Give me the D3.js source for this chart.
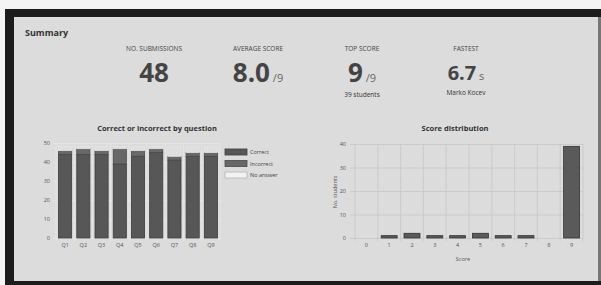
<!DOCTYPE html>
<html>
<head>
<meta charset="utf-8">
<script src="https://cdn.jsdelivr.net/npm/d3@7"></script>
<style>
  body { margin: 0; background: #f4f4f4; }
  svg { display: block; font-family: "Open Sans", sans-serif; }
</style>
</head>
<body>
<script>
// summary stats
var statLabels = ["NO. SUBMISSIONS", "AVERAGE SCORE", "TOP SCORE", "FASTEST"];
var statValues = ["48", "8.0", "9", "6.7"];
var statUnits = ["", "/9", "/9", "s"];
var statNotes = ["", "", "39 students", "Marko Kocev"];

// correct / incorrect by question
var questions = ["Q1", "Q2", "Q3", "Q4", "Q5", "Q6", "Q7", "Q8", "Q9"];
var correct = [44, 44, 44, 39, 43, 45, 41, 43, 43];
var incorrect = [2, 3, 2, 8, 3, 2, 2, 2, 2];
var noAnswer = [2, 1, 2, 1, 2, 1, 5, 3, 3];
var answerKeys = ["Correct", "Incorrect", "No answer"];
var leftTicks = [0, 10, 20, 30, 40, 50];

// score distribution
var scores = ["0", "1", "2", "3", "4", "5", "6", "7", "8", "9"];
var students = [0, 1, 2, 1, 1, 2, 1, 1, 0, 39];
var rightTicks = [0, 10, 20, 30, 40];

var W = 601, H = 285;
var svg = d3.select("body").append("svg")
    .attr("width", W)
    .attr("height", H);

// frame
svg.append("rect").attr("x", 5).attr("y", 9).attr("width", 596).attr("height", 276).attr("fill", "#1c1c1c");
svg.append("rect").attr("x", 14).attr("y", 17).attr("width", 584).attr("height", 264).attr("fill", "#dcdcdc");
svg.append("rect").attr("x", 598).attr("y", 17).attr("width", 3).attr("height", 264).attr("fill", "#777");

svg.append("text")
    .attr("x", 25).attr("y", 36)
    .style("font-size", "9px").style("font-weight", "bold").style("fill", "#333")
    .text("Summary");

// stats row
var sx = d3.scalePoint().domain(statLabels).range([154, 466]);
var stat = svg.selectAll(".stat")
    .data(statLabels)
    .enter().append("g")
    .attr("class", "stat")
    .attr("transform", function(d) { return "translate(" + sx(d) + ",0)"; });

stat.append("text")
    .attr("y", 51)
    .attr("text-anchor", "middle")
    .style("font-size", "6.5px").style("fill", "#444")
    .text(function(d) { return d; });

var valText = stat.append("text")
    .attr("y", function(d, i) { return i == 3 ? 80 : 82; })
    .attr("text-anchor", "middle");
valText.append("tspan")
    .style("font-size", function(d, i) { return i == 3 ? "20px" : "26px"; })
    .style("font-weight", "bold").style("fill", "#444")
    .text(function(d, i) { return statValues[i]; });
valText.append("tspan")
    .style("font-size", "11px").style("fill", "#666")
    .text(function(d, i) { return statUnits[i] ? " " + statUnits[i] : ""; });

stat.append("text")
    .attr("y", function(d, i) { return i == 3 ? 95 : 97; })
    .attr("text-anchor", "middle")
    .style("font-size", "6.5px").style("fill", "#333")
    .text(function(d, i) { return statNotes[i]; });

// ---- left chart: correct or incorrect by question
var x1 = d3.scaleBand().domain(questions).range([56, 220]).paddingInner(0.28).paddingOuter(0.14);
var y1 = d3.scaleLinear().domain([0, 50]).range([238, 143]);

svg.append("text")
    .attr("x", 157).attr("y", 131)
    .attr("text-anchor", "middle")
    .style("font-size", "7.5px").style("font-weight", "bold").style("fill", "#333")
    .text("Correct or incorrect by question");

var g1 = svg.append("g");
g1.selectAll(".hgrid")
    .data(leftTicks)
    .enter().append("line")
    .attr("x1", 53).attr("x2", 221)
    .attr("y1", function(d) { return y1(d) + 0.5; })
    .attr("y2", function(d) { return y1(d) + 0.5; })
    .attr("stroke", "#e6e6e6").attr("stroke-width", 0.8);
g1.selectAll(".vgrid")
    .data(d3.range(questions.length + 1))
    .enter().append("line")
    .attr("x1", function(d) { return 56 + d * x1.step(); })
    .attr("x2", function(d) { return 56 + d * x1.step(); })
    .attr("y1", 143).attr("y2", 241)
    .attr("stroke", "#e6e6e6").attr("stroke-width", 0.8);

var stackData = questions.map(function(q, i) {
    return { q: q, "Correct": correct[i], "Incorrect": incorrect[i], "No answer": noAnswer[i] };
});
var series = d3.stack().keys(answerKeys)(stackData);
var fills = { "Correct": "#575757", "Incorrect": "#686868", "No answer": "#dfdfdf" };
var strokes = { "Correct": "#3c3c3c", "Incorrect": "#4a4a4a", "No answer": "#e4e4e4" };

g1.selectAll(".series")
    .data(series)
    .enter().append("g")
    .attr("fill", function(d) { return fills[d.key]; })
    .attr("stroke", function(d) { return strokes[d.key]; })
    .attr("stroke-width", 0.8)
    .selectAll("rect")
    .data(function(d) { return d; })
    .enter().append("rect")
    .attr("x", function(d) { return x1(d.data.q); })
    .attr("width", x1.bandwidth())
    .attr("y", function(d) { return y1(d[1]); })
    .attr("height", function(d) { return y1(d[0]) - y1(d[1]); });

g1.append("g")
    .attr("transform", "translate(50,0)")
    .call(d3.axisLeft(y1).tickValues(leftTicks).tickSize(0).tickPadding(0))
    .call(function(g) { g.select(".domain").remove(); })
    .selectAll("text").style("font-size", "5.5px").style("fill", "#555").style("font-family", "Open Sans");

g1.append("g")
    .attr("transform", "translate(0,243)")
    .call(d3.axisBottom(x1).tickSize(0).tickPadding(0))
    .call(function(g) { g.select(".domain").remove(); })
    .selectAll("text").style("font-size", "5.5px").style("fill", "#555").style("font-family", "Open Sans");

// legend
var legend = svg.selectAll(".legend")
    .data(answerKeys)
    .enter().append("g")
    .attr("transform", function(d, i) { return "translate(225," + (149 + i * 11.5) + ")"; });
legend.append("rect")
    .attr("width", 22).attr("height", 6)
    .attr("fill", function(d) { return d == "No answer" ? "#f2f2f2" : fills[d]; })
    .attr("stroke", function(d) { return d == "No answer" ? "#b5b5b5" : strokes[d]; })
    .attr("stroke-width", 0.8);
legend.append("text")
    .attr("x", 25).attr("y", 5)
    .style("font-size", "5.5px").style("fill", "#444")
    .text(function(d) { return d; });

// ---- right chart: score distribution
var x2 = d3.scaleBand().domain(scores).range([355, 583]).paddingInner(0.3).paddingOuter(0.15);
var y2 = d3.scaleLinear().domain([0, 40]).range([238, 144]);

svg.append("text")
    .attr("x", 455).attr("y", 131)
    .attr("text-anchor", "middle")
    .style("font-size", "7.5px").style("font-weight", "bold").style("fill", "#333")
    .text("Score distribution");

var g2 = svg.append("g");
g2.selectAll(".hgrid")
    .data(rightTicks)
    .enter().append("line")
    .attr("x1", 350).attr("x2", 583)
    .attr("y1", function(d) { return y2(d) + 0.5; })
    .attr("y2", function(d) { return y2(d) + 0.5; })
    .attr("stroke", "#c6c6c6").attr("stroke-width", 0.8);
g2.selectAll(".vgrid")
    .data(d3.range(scores.length + 1))
    .enter().append("line")
    .attr("x1", function(d) { return 355 + d * x2.step(); })
    .attr("x2", function(d) { return 355 + d * x2.step(); })
    .attr("y1", 144).attr("y2", 241)
    .attr("stroke", "#c6c6c6").attr("stroke-width", 0.8);

g2.selectAll(".bar")
    .data(students)
    .enter().append("rect")
    .attr("x", function(d, i) { return x2(scores[i]); })
    .attr("width", x2.bandwidth())
    .attr("y", function(d) { return y2(d); })
    .attr("height", function(d) { return y2(0) - y2(d); })
    .attr("fill", "#5a5a5a")
    .attr("stroke", "#333")
    .attr("stroke-width", 0.8);

g2.append("g")
    .attr("transform", "translate(346,0)")
    .call(d3.axisLeft(y2).tickValues(rightTicks).tickSize(0).tickPadding(0))
    .call(function(g) { g.select(".domain").remove(); })
    .selectAll("text").style("font-size", "5.5px").style("fill", "#555").style("font-family", "Open Sans");

g2.append("g")
    .attr("transform", "translate(0,243)")
    .call(d3.axisBottom(x2).tickSize(0).tickPadding(0))
    .call(function(g) { g.select(".domain").remove(); })
    .selectAll("text").style("font-size", "5.5px").style("fill", "#555").style("font-family", "Open Sans");

svg.append("text")
    .attr("x", 463).attr("y", 261)
    .attr("text-anchor", "middle")
    .style("font-size", "5.5px").style("fill", "#555")
    .text("Score");

svg.append("text")
    .attr("transform", "translate(337,192) rotate(-90)")
    .attr("text-anchor", "middle")
    .style("font-size", "5.5px").style("fill", "#555")
    .text("No. students");
</script>
</body>
</html>
